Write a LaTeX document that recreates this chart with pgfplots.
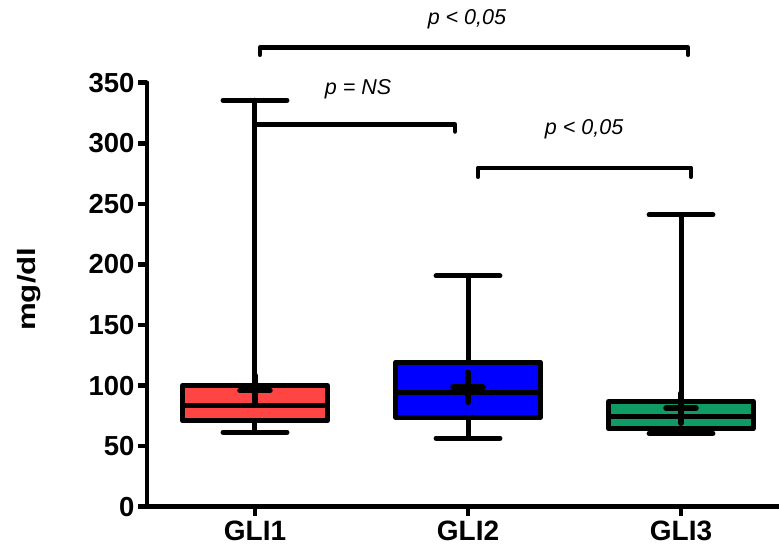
\documentclass[border=0pt]{standalone}
\usepackage{pgfplots}
\pgfplotsset{compat=1.18}
\usepgfplotslibrary{statistics}
\usepackage{fontspec}
\setmainfont{Liberation Sans}
\definecolor{gred}{RGB}{255,68,68}
\definecolor{gblue}{RGB}{0,0,255}
\definecolor{ggreen}{RGB}{16,155,100}
\begin{document}
\begin{tikzpicture}
\begin{axis}[
 scale only axis, width=632pt, height=424pt,
 xmin=0.493, xmax=3.46, ymin=0, ymax=350,
 axis lines=left, axis line style={line width=4.5pt, line cap=round, -},
 ytick={0,50,...,350}, xtick={1,2,3}, xticklabels={GLI1,GLI2,GLI3},
 tick align=outside, major tick length=9pt, tick style={line width=4.5pt, black},
 yticklabel style={font=\fontsize{27.5}{30}\selectfont\bfseries},
 xticklabel style={font=\fontsize{28}{30}\selectfont\bfseries, yshift=-2pt},
 /pgf/number format/assume math mode=true,
 ylabel={\scalebox{1.25}[1]{mg/dl}},
 ylabel style={font=\fontsize{25}{28}\selectfont\bfseries, at={(axis description cs:-0.187,0.513)}, anchor=center},
 clip=false,
 boxplot/draw direction=y,
 boxplot/box extend=0.68, boxplot/whisker extend=0.3,
]
\addplot[boxplot prepared={median=83.4, upper quartile=100.1, lower quartile=70.8, upper whisker=335.5, lower whisker=61.4, draw position=1}, draw=black, fill=gred, line width=5pt, line join=round, line cap=round] coordinates {};
\addplot[boxplot prepared={median=94.1, upper quartile=119.1, lower quartile=73.7, upper whisker=190.5, lower whisker=56.5, draw position=2}, draw=black, fill=gblue, line width=5pt, line join=round, line cap=round] coordinates {};
\addplot[boxplot prepared={median=74.3, upper quartile=86.9, lower quartile=64.2, upper whisker=240.9, lower whisker=60.6, draw position=3}, draw=black, fill=ggreen, line width=5pt, line join=round, line cap=round] coordinates {};
\addplot[only marks, mark=+, mark size=15pt, every mark/.append style={solid, line width=5.5pt, line cap=round}] coordinates {(1,96) (2,98.6) (3,81.3)};
\addplot[black, line width=4.5pt, line cap=round, line join=round] coordinates {(1.023,373) (1.023,379) (3.033,379) (3.033,373)};
\addplot[black, line width=4.5pt, line cap=round, line join=round] coordinates {(1.0,315.6) (1.939,315.6) (1.939,309.7)};
\addplot[black, line width=4.5pt, line cap=round, line join=round] coordinates {(2.047,272.3) (2.047,279.7) (3.047,279.7) (3.047,272.3)};
\node[font=\fontsize{21.5}{24}\selectfont\itshape] at (axis cs:1.995,402) {p < 0,05};
\node[font=\fontsize{21.5}{24}\selectfont\itshape] at (axis cs:1.484,345) {p = NS};
\node[font=\fontsize{21.5}{24}\selectfont\itshape] at (axis cs:2.545,311.9) {p < 0,05};
\coordinate (BL) at (rel axis cs:-0.2326,-0.1021);
\coordinate (TR) at (rel axis cs:1,1.195);
\end{axis}
\pgfresetboundingbox
\useasboundingbox (BL) rectangle (TR);
\end{tikzpicture}
\end{document}
